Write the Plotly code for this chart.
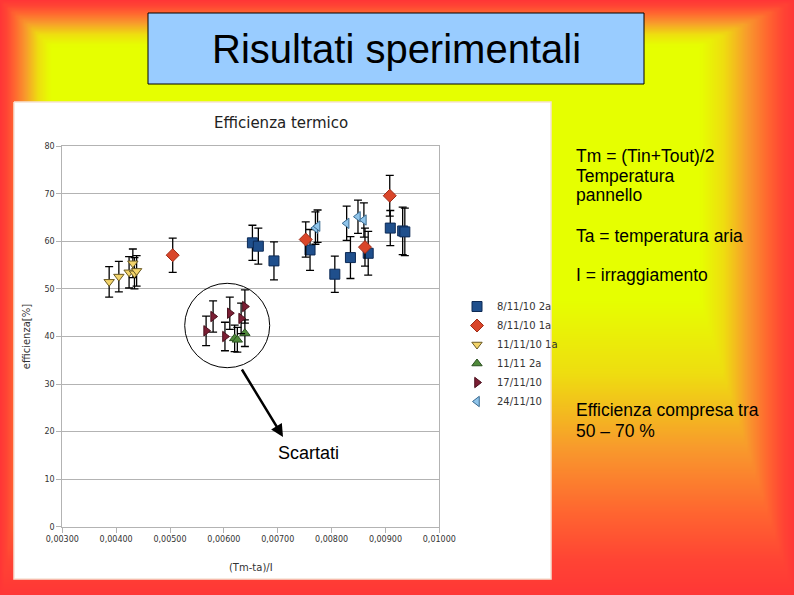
import numpy as np
import plotly.graph_objects as go

# ---------------- data ----------------
series_names = ["8/11/10 2a", "8/11/10 1a", "11/11/10 1a", "11/11 2a", "17/11/10", "24/11/10"]

s1_x = [0.00653, 0.00664, 0.00693, 0.00760, 0.00806, 0.00835, 0.00868, 0.00909, 0.00932, 0.00936]
s1_y = [59.7, 59.0, 55.9, 58.2, 53.1, 56.6, 57.5, 62.8, 62.2, 62.0]
s1_e = [3.7, 3.8, 4.0, 4.3, 3.8, 4.4, 4.6, 3.7, 5.0, 5.0]

s2_x = [0.00505, 0.00752, 0.00862, 0.00908]
s2_y = [57.1, 60.4, 58.8, 69.6]
s2_e = [3.6, 3.7, 4.0, 4.3]

s3_x = [0.00387, 0.00405, 0.00424, 0.00431, 0.00434, 0.00438]
s3_y = [51.5, 52.6, 53.5, 55.4, 53.3, 53.8]
s3_e = [3.2, 3.2, 3.3, 3.0, 3.3, 3.2]

s4_x = [0.00620, 0.00625, 0.00639]
s4_y = [39.6, 39.3, 40.7]
s4_e = [2.8, 2.6, 2.8]

s5_x = [0.00567, 0.00580, 0.00602, 0.00611, 0.00632, 0.00639]
s5_y = [41.2, 44.2, 40.0, 44.9, 43.8, 46.3]
s5_e = [3.1, 3.3, 3.0, 3.4, 3.2, 3.5]

s6_x = [0.00770, 0.00774, 0.00828, 0.00849, 0.00860]
s6_y = [62.8, 63.2, 63.8, 65.2, 64.5]
s6_e = [3.4, 3.4, 3.6, 3.5, 3.6]

x_ticks = [0.003, 0.004, 0.005, 0.006, 0.007, 0.008, 0.009, 0.010]
y_ticks = [0, 10, 20, 30, 40, 50, 60, 70, 80]

title_text = "Risultati sperimentali"
chart_title = "Efficienza termico"
x_title = "(Tm-ta)/I"
y_title = "efficienza[%]"
side_lines = [
    ("Tm = (Tin+Tout)/2", 156), ("Temperatura", 175.5), ("pannello", 195),
    ("Ta = temperatura aria", 236), ("I = irraggiamento", 275),
    ("Efficienza compresa tra", 410), ("50 \u2013 70 %", 431),
]

# ---------------- layout constants (pixels) ----------------
W, H = 794, 595
PX0, PX1, PY0, PY1 = 62.3, 439.3, 146.3, 526.7   # chart plot area
BOX = (14, 102, 551, 579)                         # white chart panel
TBOX = (148, 13, 644, 84)                         # title box

# background gradient (rectangular path gradient)
GX1, GX2, GY1, GY2 = 50, 700, 45, 300
gx = np.linspace(0, W, 200)
gy = np.linspace(0, H, 150)
GXX, GYY = np.meshgrid(gx, gy)
u = np.maximum((GX1 - GXX) / GX1, (GXX - GX2) / (W - GX2))
v = np.maximum((GY1 - GYY) / GY1, (GYY - GY2) / (H - GY2))
gz = np.clip(np.maximum(u, v), 0, 1)

fig = go.Figure()
fig.add_trace(go.Heatmap(
    x=gx, y=gy, z=gz, zmin=0, zmax=1, zsmooth="best", showscale=False, hoverinfo="skip",
    colorscale=[[0, "#e6ff00"], [0.25, "#eedd10"], [0.5, "#f89a2c"], [0.72, "#ff6530"],
                [0.88, "#ff4434"], [1, "#ff3636"]],
    xaxis="x", yaxis="y", showlegend=False))
fig.add_trace(go.Scatter(
    x=[BOX[0], BOX[2], BOX[2], BOX[0], BOX[0]], y=[BOX[1], BOX[1], BOX[3], BOX[3], BOX[1]],
    mode="lines", fill="toself", fillcolor="white", line=dict(color="#f6e2d4", width=1.5),
    hoverinfo="skip", showlegend=False, xaxis="x", yaxis="y"))

styles = [
    (s1_x, s1_y, s1_e, "square", "#1f4f8c", "#0d2a55", 10),
    (s2_x, s2_y, s2_e, "diamond", "#d9462a", "#a02c18", 10),
    (s3_x, s3_y, s3_e, "triangle-down", "#f3d46a", "#6a5a24", 9),
    (s4_x, s4_y, s4_e, "triangle-up", "#4f8a3a", "#2a5020", 9),
    (s5_x, s5_y, s5_e, "triangle-right", "#7b1e34", "#4a0f1c", 9),
    (s6_x, s6_y, s6_e, "triangle-left", "#8fc4ea", "#3a6a90", 9),
]
for name, (xs, ys, es, sym, fc, lc, sz) in zip(series_names, styles):
    fig.add_trace(go.Scatter(
        x=xs, y=ys, name=name, mode="markers", xaxis="x2", yaxis="y2",
        marker=dict(symbol=sym, color=fc, size=sz, line=dict(color=lc, width=1)),
        error_y=dict(type="data", array=es, visible=True, color="black", thickness=1.3, width=4),
    ))

def fx(p):
    return p / W

def fy(p):
    return 1 - p / H

chart_font = "DejaVu Sans, Verdana, sans-serif"
slide_font = "Liberation Sans, Arial, sans-serif"

annotations = [
    dict(text=title_text, x=396, y=48.5, xref="x", yref="y", showarrow=False,
         font=dict(family=slide_font, size=40, color="black"), xanchor="center", yanchor="middle"),
    dict(text=chart_title, x=281, y=123, xref="x", yref="y", showarrow=False,
         font=dict(family=chart_font, size=15, color="#222"), xanchor="center", yanchor="middle"),
    dict(text="Scartati", x=276, y=453, xref="x", yref="y", showarrow=False,
         font=dict(family=slide_font, size=18, color="black"), xanchor="left", yanchor="middle"),
    dict(text="", x=283, y=437, ax=241, ay=368, xref="x", yref="y", axref="x", ayref="y",
         showarrow=True, arrowhead=2, arrowsize=1, arrowwidth=2.5, arrowcolor="black"),
]
for txt, yy in side_lines:
    annotations.append(dict(text=txt, x=574, y=yy, xref="x", yref="y", showarrow=False,
                            font=dict(family=slide_font, size=17.5, color="black"),
                            xanchor="left", yanchor="middle"))

shapes = [
    dict(type="rect", xref="x", yref="y", x0=TBOX[0], y0=TBOX[1], x1=TBOX[2], y1=TBOX[3],
         fillcolor="#99ccff", line=dict(color="black", width=1), layer="above"),
    dict(type="circle", xref="x", yref="y", x0=184.7, y0=283.3, x1=269.7, y1=367.7,
         line=dict(color="black", width=1), layer="above"),
]

fig.update_layout(
    template="none",
    width=W, height=H, margin=dict(l=0, r=0, t=0, b=0, pad=0), autosize=False,
    paper_bgcolor="#e6ff00", plot_bgcolor="rgba(0,0,0,0)",
    separators=",.",
    showlegend=True,
    legend=dict(x=fx(457), y=fy(292), xanchor="left", yanchor="top",
                bgcolor="rgba(0,0,0,0)", borderwidth=0,
                font=dict(family=chart_font, size=10, color="#333")),
    xaxis=dict(domain=[0, 1], range=[0, W], visible=False, fixedrange=True, automargin=False),
    yaxis=dict(domain=[0, 1], range=[H, 0], visible=False, fixedrange=True, automargin=False),
    xaxis2=dict(domain=[fx(PX0), fx(PX1)], range=[x_ticks[0], x_ticks[-1]], anchor="y2",
                automargin=False,
                tickvals=x_ticks, tickformat=".5f", showgrid=False, zeroline=False,
                showline=True, linecolor="#b3b3b3", linewidth=1, mirror=True,
                ticks="outside", ticklen=5, tickcolor="#b3b3b3",
                tickfont=dict(family=chart_font, size=8, color="#333"),
                title=dict(text=x_title, font=dict(family=chart_font, size=10, color="#333"), standoff=20)),
    yaxis2=dict(domain=[fy(PY1), fy(PY0)], range=[y_ticks[0], y_ticks[-1]], anchor="x2",
                automargin=False,
                tickvals=y_ticks, showgrid=True, gridcolor="#b3b3b3", zeroline=False,
                showline=True, linecolor="#b3b3b3", linewidth=1, mirror=True,
                ticks="outside", ticklen=5, tickcolor="#b3b3b3",
                tickfont=dict(family=chart_font, size=8, color="#333"),
                title=dict(text=y_title, font=dict(family=chart_font, size=10, color="#333"), standoff=12)),
    annotations=annotations, shapes=shapes,
)

fig.write_html(
    "out.html",
    config={"displayModeBar": False},
    post_script="document.documentElement.style.margin='0';document.body.style.margin='0';"
                "document.body.style.overflow='hidden';",
)
